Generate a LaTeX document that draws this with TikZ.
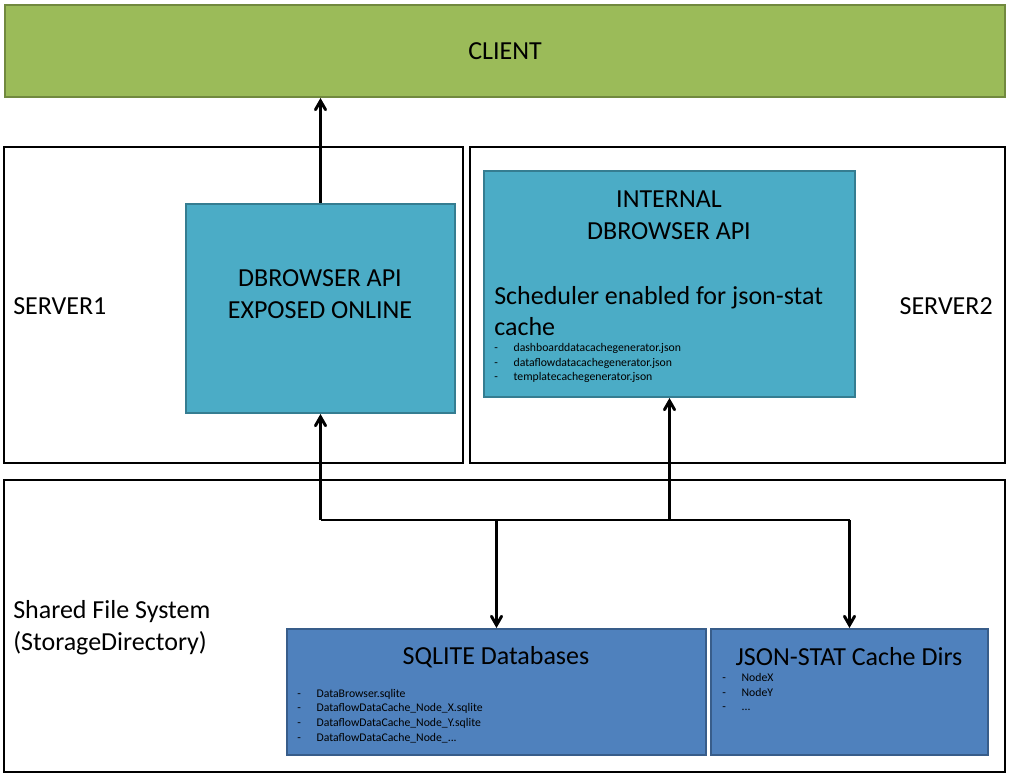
\documentclass[tikz,border=0pt]{standalone}
\usepackage{fontspec}
\setmainfont{Carlito}
\usepackage{tikz}
\usetikzlibrary{positioning, arrows, fit}
\definecolor{clientgreen}{HTML}{9BBB59}
\definecolor{clientedge}{HTML}{71893F}
\definecolor{apiteal}{HTML}{4BACC6}
\definecolor{apiedge}{HTML}{357D91}
\definecolor{storeblue}{HTML}{4F81BD}
\definecolor{storeedge}{HTML}{385D8A}
\newcommand{\bigtxt}{\fontsize{19.5}{24}\selectfont}
\newcommand{\smalltxt}{\fontsize{8.8}{11}\selectfont}
\newcommand{\itm}[1]{\makebox[14.5pt][l]{-}#1}
\tikzset{->,>=angle 60,x=0.75pt,y=-0.75pt,
  server/.style={draw=black,line width=2.2pt,inner sep=0pt},
  client/.style={draw=clientedge,fill=clientgreen,line width=1.5pt,inner sep=0pt},
  api/.style={draw=apiedge,fill=apiteal,line width=1.5pt,inner sep=0pt},
  store/.style={draw=storeedge,fill=storeblue,line width=1.5pt,inner sep=0pt},
  big/.style={font=\bigtxt,align=center,inner sep=0pt},
  list/.style={font=\smalltxt,align=left,inner sep=0pt},
  link/.style={line width=2.2pt}}

\begin{document}
\begin{tikzpicture}
\useasboundingbox (0,0) rectangle (1013,777);
\node[client, fit={(5,5) (1005,97)}] (client) {};
\node[server, fit={(4,147) (463,463)}] (server1) {};
\node[server, fit={(470,147) (1005,463)}] (server2) {};
\node[server, fit={(4,480) (1005,772)}] (shared) {};
\node[api, fit={(186,204) (455,413)}] (exposed) {};
\node[api, fit={(484,171) (855,397)}] (internal) {};
\node[store, fit={(287,629) (706,755)}] (sqlite) {};
\node[store, fit={(711,629) (988,755)}] (jsonstat) {};

\node[big] (clienttxt) at (client) {CLIENT};
\node[big, anchor=west] (server1txt) at (13,306) {SERVER1};
\node[big, anchor=east] (server2txt) at (993,306) {SERVER2};
\node[big, anchor=west, align=left] (sharedtxt) at (13,628) {Shared File System\\(StorageDirectory)};
\node[big] (exposedtxt) at (320,294) {DBROWSER API\\EXPOSED ONLINE};
\node[big] (internaltxt) at (669,215) {INTERNAL\\DBROWSER API};
\node[big, anchor=west, align=left, font=\fontsize{19.5}{23.5}\selectfont] (schedtxt) at (494,311) {Scheduler enabled for json-stat\\cache};
\node[list, anchor=west] (schedlist) at (494,363) {\itm{dashboarddatacachegenerator.json}\\
  \itm{dataflowdatacachegenerator.json}\\\itm{templatecachegenerator.json}};
\node[big] (sqlitetxt) at (496,657) {SQLITE Databases};
\node[list, anchor=west] (sqlitelist) at (297,716) {\itm{DataBrowser.sqlite}\\
  \itm{DataflowDataCache\_Node\_X.sqlite}\\\itm{DataflowDataCache\_Node\_Y.sqlite}\\
  \itm{DataflowDataCache\_Node\_...}};
\node[big] (jsonstattxt) at (849,657) {JSON-STAT Cache Dirs};
\node[list, anchor=west] (jsonstatlist) at (722,692) {\itm{NodeX}\\\itm{NodeY}\\\itm{...}};

\coordinate (busA) at (exposed.south |- 0,520);
\coordinate (busB) at (sqlite.north |- 0,520);
\coordinate (busC) at (internal.south |- 0,520);
\coordinate (busD) at (jsonstat.north |- 0,520);
\draw[link] (exposed.north) -- (exposed.north |- client.south);
\draw[link,-] (busA) -- (busD);
\draw[link] (busA) -- (exposed);
\draw[link] (busC) -- (internal);
\draw[link] (busB) -- (sqlite);
\draw[link] (busD) -- (jsonstat);
\end{tikzpicture}
\end{document}
